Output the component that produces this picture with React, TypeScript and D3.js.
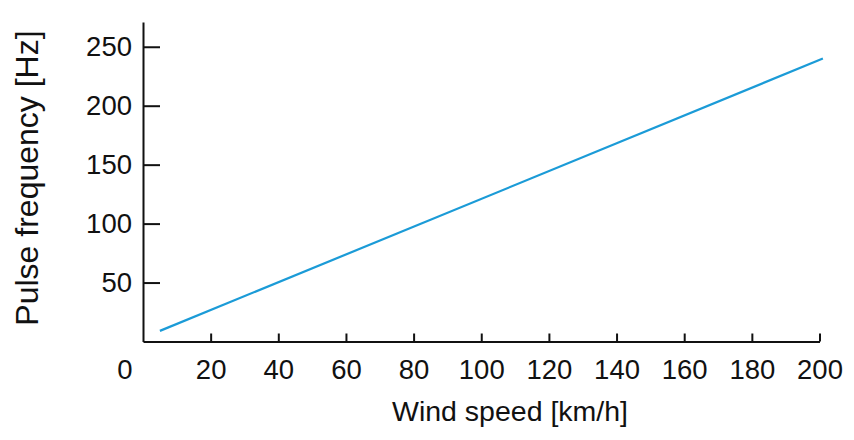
import * as d3 from 'd3';
import React, { useEffect, useRef } from 'react';

// wind speed (km/h) -> pulse frequency (Hz), end points of the sensor line
const windSpeed = [5, 201];
const pulseFreq = [9, 240];

const xTicks = [20, 40, 60, 80, 100, 120, 140, 160, 180, 200];
const yTicks = [50, 100, 150, 200, 250];

const xTitle = 'Wind speed [km/h]';
const yTitle = 'Pulse frequency [Hz]';

export default () => {
    const ref = useRef<any>();

    useEffect(() => {
        document.body.style.margin = '0';

        const width = 854;
        const height = 440;
        const margin = { top: 22, right: 34, bottom: 99, left: 143 };
        const font = '"Liberation Sans", Arial, Helvetica, sans-serif';

        const svg = d3.select<any, any>(ref.current)
            .attr('width', width)
            .attr('height', height);
        svg.selectAll('*').remove();

        const x = d3.scaleLinear().domain([0, 200]).range([margin.left, 819.5]);
        const y = d3.scaleLinear().domain([0, 271]).range([height - margin.bottom + 0.5, margin.top]);

        const axisX = d3.axisBottom(x)
            .tickValues(xTicks)
            .tickSizeInner(-8)
            .tickSizeOuter(0)
            .tickPadding(18);
        const gx = svg.append('g')
            .attr('transform', `translate(0,${y(0)})`)
            .call(axisX as any);

        const axisY = d3.axisLeft(y)
            .tickValues(yTicks)
            .tickSizeInner(-17)
            .tickSizeOuter(0)
            .tickPadding(11);
        const gy = svg.append('g')
            .attr('transform', `translate(${x(0)},0)`)
            .call(axisY as any);

        [gx, gy].forEach(g => {
            g.select('.domain').attr('stroke', '#111').attr('stroke-width', 2);
            g.selectAll('.tick line').attr('stroke', '#111').attr('stroke-width', 2);
            g.selectAll('.tick text')
                .attr('fill', '#111')
                .style('font-family', font)
                .style('font-size', '27.5px');
        });

        // origin label sits left of the corner
        svg.append('text')
            .attr('x', x(0) - 18)
            .attr('y', y(0) + 18)
            .attr('dy', '0.71em')
            .attr('text-anchor', 'middle')
            .attr('fill', '#111')
            .style('font-family', font)
            .style('font-size', '27.5px')
            .text('0');

        const line = d3.line<number>()
            .x(d => x(d))
            .y((d, i) => y(pulseFreq[i]));

        svg.append('path')
            .datum(windSpeed)
            .attr('fill', 'none')
            .attr('stroke', '#1b9bd7')
            .attr('stroke-width', 2.2)
            .attr('d', line as any);

        svg.append('text')
            .attr('x', 510)
            .attr('y', 421)
            .attr('text-anchor', 'middle')
            .attr('fill', '#111')
            .style('font-family', font)
            .style('font-size', '28.5px')
            .text(xTitle);

        svg.append('text')
            .attr('transform', `translate(38,178) rotate(-90)`)
            .attr('text-anchor', 'middle')
            .attr('fill', '#111')
            .style('font-family', font)
            .style('font-size', '32px')
            .text(yTitle);
    });

    return (
        <React.Fragment>
            <svg ref={ref} style={{ display: 'block' }}></svg>
        </React.Fragment>
    );
};
